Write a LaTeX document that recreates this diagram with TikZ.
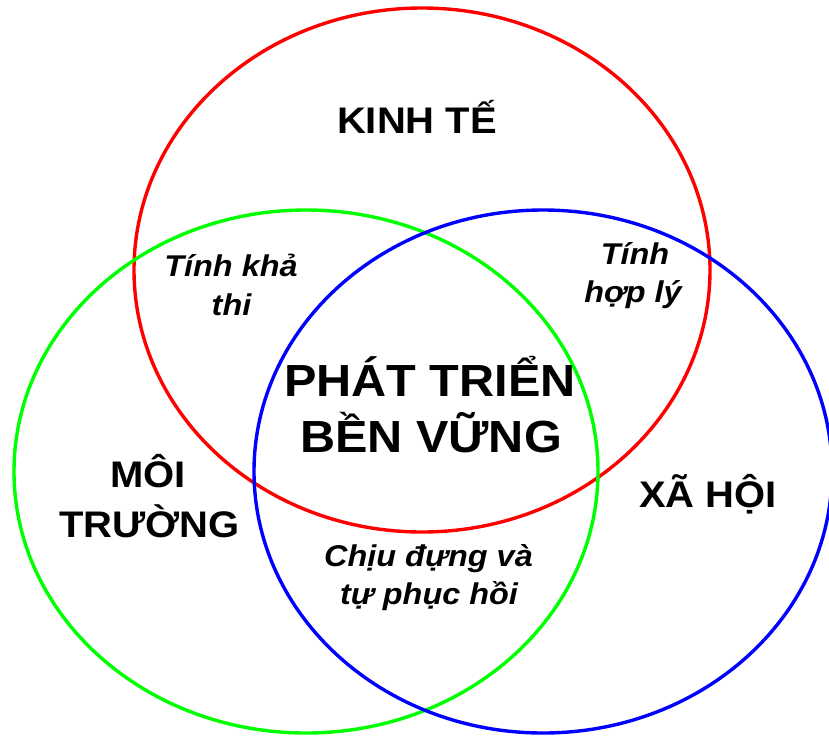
\documentclass[tikz,border=0pt]{standalone}
\usepackage{fontspec}
\setmainfont{Liberation Sans}[FakeStretch=1.08]
\tikzset{
  ring/.style={line width=3.4pt},
  big/.style={anchor=base, inner sep=0pt, font=\fontsize{37}{42}\selectfont\bfseries},
  core/.style={anchor=base, inner sep=0pt, font=\fontsize{45}{52}\selectfont\bfseries},
  small/.style={anchor=base, inner sep=0pt, font=\fontsize{30}{35}\selectfont\bfseries\itshape},
}
\begin{document}
\begin{tikzpicture}[x=1pt,y=-1pt]
\useasboundingbox (0,0) rectangle (829,737);
\clip (0,0) rectangle (829,737);
\draw[ring, color={rgb,255:red,255;green,0;blue,0}] (422,270) ellipse [x radius=288, y radius=262];
\draw[ring, color={rgb,255:red,0;green,255;blue,0}] (306,471.5) ellipse [x radius=292, y radius=261.5];
\draw[ring, color={rgb,255:red,0;green,0;blue,255}] (543,471.5) ellipse [x radius=289, y radius=261.5];
\node[big] (kt) at (417,133) {KINH TẾ};
\node[core] (p1) at (430,396) {PHÁT TRIỂN};
\node[core] (p2) at (431,452) {BỀN VỮNG};
\node[big] (m1) at (148,487) {MÔI};
\node[big] (m2) at (149.5,537) {TRƯỜNG};
\node[big] (xh) at (708,507) {XÃ HỘI};
\node[small] (c1) at (428.5,566) {Chịu đựng và};
\node[small] (c2) at (429,604) {tự phục hồi};
\node[small] (k1) at (231,276) {Tính khả};
\node[small] (k2) at (231.5,315) {thi};
\node[small] (h1) at (635,264) {Tính};
\node[small] (h2) at (633,302) {hợp lý};
\end{tikzpicture}
\end{document}
